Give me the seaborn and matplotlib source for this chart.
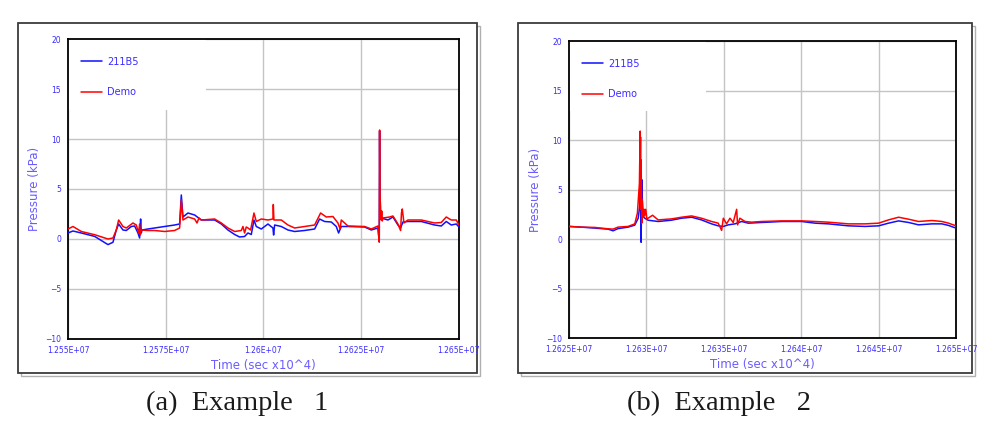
import matplotlib
matplotlib.use("Agg")
import matplotlib.pyplot as plt
from matplotlib.patches import Rectangle
from matplotlib.ticker import MultipleLocator
import seaborn as sns
import pandas as pd

# -------------------------------------------------------------------
# data (time in sec, pressure in kPa)
# -------------------------------------------------------------------

ex1_blue_t = [12550000, 12551280, 12553410, 12556820, 12560230, 12561510, 12562360, 12562960,
              12564070, 12564920, 12566200, 12567050, 12567900, 12568330, 12568580, 12568760,
              12568930, 12570460, 12572170, 12574720, 12577280, 12578560, 12578990, 12579410,
              12580690, 12582400, 12584100, 12587510, 12589220, 12590920, 12592630, 12593900,
              12595180, 12596040, 12596890, 12597570, 12598170, 12599450, 12601150, 12602430,
              12602600, 12602860, 12604560, 12606270, 12607970, 12610530, 12613090, 12614360,
              12615640, 12617350, 12618630, 12619220, 12619910, 12621610, 12625870, 12627580,
              12629280, 12629620, 12629710, 12629800, 12630130, 12631840, 12633120, 12634400,
              12635080, 12635680, 12636960, 12640370, 12643780, 12645480, 12646760, 12648040,
              12649320, 12650000]
ex1_blue_p = [0.6, 0.8, 0.6, 0.26, -0.56, -0.33, 0.9, 1.5,
              0.9, 0.85, 1.25, 1.3, 0.6, 0.1, 2.0, 0.6,
              0.9, 1.0, 1.1, 1.25, 1.4, 1.5, 4.4, 2.2,
              2.6, 2.4, 1.9, 1.9, 1.5, 0.9, 0.45, 0.2,
              0.25, 0.6, 0.45, 1.9, 1.25, 1.0, 1.5, 1.1,
              0.4, 1.4, 1.25, 0.9, 0.75, 0.85, 1.0, 2.0,
              1.75, 1.7, 1.25, 0.6, 1.25, 1.25, 1.2, 0.9,
              1.1, -0.3, 10.8, 2.5, 2.1, 1.9, 2.2, 1.4,
              1.1, 1.7, 1.75, 1.75, 1.4, 1.3, 1.75, 1.4,
              1.5, 1.2]

ex1_red_t = [12550000, 12551280, 12553410, 12556820, 12560230, 12561510, 12562360, 12562960,
             12564070, 12564920, 12566620, 12567480, 12568070, 12568330, 12568500, 12568760,
             12570460, 12572170, 12574720, 12577280, 12578560, 12578990, 12579410, 12580690,
             12582400, 12583000, 12583500, 12584100, 12587510, 12589220, 12590920, 12592630,
             12594330, 12594760, 12595180, 12595600, 12596040, 12596720, 12597570, 12598170,
             12599450, 12601150, 12602430, 12602520, 12602680, 12604560, 12606270, 12607970,
             12610530, 12613090, 12614620, 12616070, 12617770, 12619050, 12619600, 12619910,
             12621610, 12625870, 12627580, 12629280, 12629620, 12629710, 12629780, 12629960,
             12630100, 12630250, 12630400, 12630560, 12632270, 12633120, 12634400, 12635080,
             12635300, 12635510, 12635940, 12636960, 12640370, 12643780, 12645480, 12646760,
             12648040, 12649320, 12650000]
ex1_red_p = [1.0, 1.25, 0.75, 0.43, 0.0, 0.1, 0.9, 1.9,
             1.25, 1.1, 1.6, 1.4, 0.6, 1.5, 0.4, 0.9,
             0.85, 0.85, 0.75, 0.85, 1.1, 3.9, 1.9, 2.2,
             2.0, 1.6, 2.1, 1.9, 2.0, 1.6, 1.1, 0.75,
             0.85, 1.25, 0.6, 1.2, 1.1, 0.9, 2.6, 1.75,
             2.0, 1.9, 2.0, 3.45, 1.9, 1.9, 1.4, 1.1,
             1.25, 1.4, 2.6, 2.2, 2.25, 1.6, 1.0, 1.9,
             1.3, 1.25, 1.0, 1.3, -0.3, 10.9, 4.5, 3.2,
             1.9, 2.8, 1.8, 2.1, 2.2, 2.3, 1.5, 0.85,
             2.6, 3.0, 1.6, 1.9, 1.9, 1.6, 1.65, 2.2,
             1.9, 1.9, 1.4]

ex2_blue_t = [12625000, 12625800, 12626660, 12627520, 12627850, 12628170, 12628820, 12629250,
              12629470, 12629570, 12629620, 12629660, 12629700, 12629770, 12629900, 12630110,
              12630760, 12631620, 12632270, 12632920, 12633560, 12634210, 12634640, 12634970,
              12635290, 12635720, 12636150, 12636580, 12637450, 12638740, 12640030, 12640900,
              12641760, 12643050, 12644130, 12645000, 12645640, 12646290, 12646940, 12647580,
              12648450, 12649090, 12649520, 12650000]
ex2_blue_p = [1.27, 1.2, 1.1, 1.0, 0.83, 1.05, 1.2, 1.4,
              2.1, 3.3, 10.3, -0.33, 6.0, 2.3, 2.1, 1.9,
              1.77, 1.9, 2.1, 2.2, 1.93, 1.53, 1.33, 1.27,
              1.43, 1.53, 1.77, 1.6, 1.67, 1.77, 1.77, 1.6,
              1.53, 1.33, 1.27, 1.33, 1.6, 1.83, 1.67, 1.43,
              1.53, 1.53, 1.37, 1.1]

ex2_red_t = [12625000, 12625800, 12626660, 12627520, 12627850, 12628170, 12628820, 12629250,
             12629420, 12629550, 12629600, 12629620, 12629660, 12629700, 12629730, 12629770,
             12629820, 12629860, 12629900, 12629960, 12630030, 12630110, 12630400, 12630760,
             12631620, 12632270, 12632920, 12633560, 12634210, 12634640, 12634860, 12634970,
             12635180, 12635400, 12635610, 12635830, 12635890, 12636040, 12636370, 12636800,
             12637450, 12638740, 12640030, 12640900, 12641760, 12643050, 12644130, 12645000,
             12645640, 12646290, 12646940, 12647580, 12648450, 12649090, 12649520, 12650000]
ex2_red_p = [1.27, 1.2, 1.17, 1.03, 1.0, 1.2, 1.27, 1.53,
             2.6, 5.6, 10.9, 3.0, 8.0, 1.6, 4.0, 3.1,
             2.2, 3.0, 2.4, 3.0, 2.0, 2.1, 2.4, 1.93,
             2.03, 2.2, 2.33, 2.1, 1.77, 1.6, 0.87, 2.1,
             1.53, 2.1, 1.67, 3.0, 1.43, 2.1, 1.77, 1.7,
             1.77, 1.83, 1.83, 1.77, 1.7, 1.53, 1.53, 1.6,
             1.93, 2.2, 2.0, 1.77, 1.87, 1.77, 1.6, 1.33]

ex1_xticks = [12550000, 12575000, 12600000, 12625000, 12650000]
ex1_xlabels = ["1.255E+07", "1.2575E+07", "1.26E+07", "1.2625E+07", "1.265E+07"]
ex2_xticks = [12625000, 12630000, 12635000, 12640000, 12645000, 12650000]
ex2_xlabels = ["1.2625E+07", "1.263E+07", "1.2635E+07", "1.264E+07", "1.2645E+07", "1.265E+07"]
yticks = [-10, -5, 0, 5, 10, 15, 20]
ytick_labels = ["\u221210", "\u22125", "0", "5", "10", "15", "20"]

series_names = ["211B5", "Demo"]
captions = ["(a)  Example   1", "(b)  Example   2"]

TICK_BLUE = "#3a2cff"
LABEL_BLUE = "#6a5cff"


def painel(ax, t_blue, p_blue, t_red, p_red, xticks, xlabels, minor_step):
    df_b = pd.DataFrame({"t": t_blue, "p": p_blue})
    df_r = pd.DataFrame({"t": t_red, "p": p_red})

    sns.lineplot(data=df_b, x="t", y="p", sort=False, estimator=None,
                 color="#1010ff", linewidth=1.1, label=series_names[0], ax=ax, zorder=3)
    sns.lineplot(data=df_r, x="t", y="p", sort=False, estimator=None,
                 color="#ff0000", linewidth=1.1, label=series_names[1], ax=ax, zorder=4)

    ax.set_xlim(xticks[0], xticks[-1])
    ax.set_ylim(-10, 20)
    ax.set_xticks(xticks)
    ax.set_xticklabels(xlabels)
    ax.set_yticks(yticks)
    ax.set_yticklabels(ytick_labels)
    ax.xaxis.set_minor_locator(MultipleLocator(minor_step))
    ax.yaxis.set_minor_locator(MultipleLocator(2.5))

    ax.tick_params(which="both", direction="inout", length=7, width=1, color="black",
                   labelsize=5.5, labelcolor=TICK_BLUE, pad=1.5)
    ax.grid(True, which="major", color="#c4c4c4", linewidth=1)
    ax.set_axisbelow(True)
    for s in ax.spines.values():
        s.set_color("black")
        s.set_linewidth(1.3)

    ax.set_xlabel("Time (sec x10^4)", color=LABEL_BLUE, fontsize=8.5, labelpad=3)
    ax.set_ylabel("Pressure (kPa)", color=LABEL_BLUE, fontsize=8.5, labelpad=3)

    # white block behind the legend (hides the grid there)
    ax.add_patch(Rectangle((0, 0.763), 0.353, 0.237, transform=ax.transAxes,
                           facecolor="white", edgecolor="none", zorder=1.5))
    leg = ax.legend(loc="upper left", bbox_to_anchor=(0.01, 0.97), frameon=False,
                    fontsize=7, handlelength=2.2, handletextpad=0.5, labelspacing=2.1)
    for txt in leg.get_texts():
        txt.set_color(TICK_BLUE)


sns.set_style("white")
plt.rcParams["font.family"] = ["DejaVu Sans"]

fig = plt.figure(figsize=(10.04, 4.24), dpi=100)

# panel frames (with a light shadow line right/bottom)
for x0, w in [(0.0179, 0.4572), (0.5159, 0.4522)]:
    fig.patches.append(Rectangle((x0 + 0.003, 0.1203 - 0.007), w, 0.8255, transform=fig.transFigure,
                                 facecolor="none", edgecolor="#b0b0b0", linewidth=1.0, zorder=-2))
    fig.patches.append(Rectangle((x0, 0.1203), w, 0.8255, transform=fig.transFigure,
                                 facecolor="white", edgecolor="#3c3c3c", linewidth=1.3, zorder=-1))

ax1 = fig.add_axes([0.0677, 0.2005, 0.3894, 0.7075])
ax2 = fig.add_axes([0.5667, 0.2028, 0.3855, 0.7005])

painel(ax1, ex1_blue_t, ex1_blue_p, ex1_red_t, ex1_red_p, ex1_xticks, ex1_xlabels, 12500)
painel(ax2, ex2_blue_t, ex2_blue_p, ex2_red_t, ex2_red_p, ex2_xticks, ex2_xlabels, 2500)

fig.text(0.236, 0.048, captions[0], ha="center", va="center", fontsize=20.5,
         family=["Liberation Serif", "DejaVu Serif"], color="#1a1a1a")
fig.text(0.716, 0.048, captions[1], ha="center", va="center", fontsize=20.5,
         family=["Liberation Serif", "DejaVu Serif"], color="#1a1a1a")

fig.savefig("out.png", dpi=100)
